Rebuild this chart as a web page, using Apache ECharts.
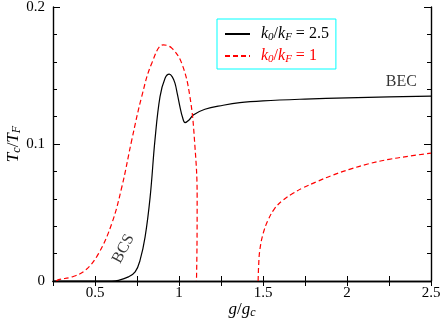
<!DOCTYPE html>
<html>
<head>
<meta charset="utf-8">
<script src="https://cdn.jsdelivr.net/npm/echarts@6/dist/echarts.min.js"></script>
<style>
  html, body { margin: 0; padding: 0; background: #fff; }
  #main { width: 443px; height: 325px; }
</style>
</head>
<body>
<div id="main"></div>
<script>
// black curve, k0/kF = 2.5
var blackX = [0.25, 0.5, 0.60, 0.64, 0.699, 0.739, 0.768, 0.798, 0.828, 0.857, 0.887, 0.917, 0.942, 0.96, 0.976, 0.991, 1.006, 1.021, 1.036, 1.06, 1.085, 1.154, 1.263, 1.362, 1.5, 1.75, 2.0, 2.25, 2.5];
var blackY = [0, 0, 0, 0.0005, 0.0030, 0.0066, 0.0150, 0.0320, 0.0610, 0.1030, 0.1346, 0.1480, 0.1510, 0.1490, 0.1444, 0.1360, 0.1270, 0.1195, 0.1156, 0.1175, 0.1212, 0.1254, 0.1283, 0.1302, 0.1315, 0.1328, 0.1337, 0.1344, 0.1350];
// red dashed curve, k0/kF = 1 (BCS side)
var redX1 = [0.27, 0.283, 0.363, 0.442, 0.521, 0.60, 0.66, 0.719, 0.778, 0.838, 0.907, 0.957, 1.016, 1.065, 1.095, 1.108, 1.107, 1.104];
var redY1 = [0, 0.001, 0.003, 0.0078, 0.020, 0.042, 0.0688, 0.103, 0.1346, 0.159, 0.1724, 0.170, 0.159, 0.1346, 0.098, 0.0615, 0.025, 0];
// red dashed curve, BEC side
var redX2 = [1.471, 1.474, 1.481, 1.501, 1.530, 1.570, 1.619, 1.679, 1.738, 1.818, 1.916, 2.015, 2.124, 2.25, 2.375, 2.5];
var redY2 = [0, 0.011, 0.0225, 0.0347, 0.0444, 0.053, 0.059, 0.064, 0.068, 0.0724, 0.0773, 0.0815, 0.0854, 0.0888, 0.0912, 0.0934];
var noteText = ['BEC', 'BCS'];
var noteX = [2.324, 0.669];
var noteY = [0.1454, 0.0235];
var noteRotate = [0, 62];

function pairs(xs, ys) {
  return xs.map(function (x, i) { return [x, ys[i]]; });
}

var serif = "'Liberation Serif', 'Times New Roman', serif";
var chart = echarts.init(document.getElementById('main'));

var rich = {
  i: { fontFamily: serif, fontStyle: 'italic', fontSize: 17 },
  n: { fontFamily: serif, fontSize: 17 },
  s: { fontFamily: serif, fontStyle: 'italic', fontSize: 12, padding: [7, 0, 0, 0] }
};
var legendRich = {
  sp: { width: 6 },
  i: { fontFamily: serif, fontStyle: 'italic', fontSize: 16 },
  n: { fontFamily: serif, fontSize: 16 },
  s: { fontFamily: serif, fontStyle: 'italic', fontSize: 11, padding: [7, 0, 0, 0] }
};

var axisCommon = {
  axisLine: { show: true, lineStyle: { color: '#000', width: 1.4 } },
  splitLine: { show: false }
};

var option = {
  animation: false,
  backgroundColor: '#fff',
  grid: { left: 53, right: 12, top: 7, bottom: 44, outerBoundsMode: 'none', containLabel: false },
  legend: {
    orient: 'vertical',
    left: 217,
    top: 19,
    padding: [7, 7, 4, 7],
    itemGap: 5,
    itemWidth: 25,
    itemHeight: 14,
    borderColor: '#00ffff',
    borderWidth: 1,
    itemStyle: { opacity: 0 },
    data: [
      { name: 'k2.5', textStyle: { color: '#000' } },
      { name: 'k1', textStyle: { color: '#ff0000' } }
    ],
    formatter: function (name) {
      var v = name === 'k2.5' ? '2.5' : '1';
      return '{sp|}{i|k}{s|0}{n|/}{i|k}{s|F}{n| = ' + v + '}';
    },
    textStyle: { rich: legendRich }
  },
  xAxis: [Object.assign({
    type: 'value', min: 0.25, max: 2.5, interval: 0.25,
    name: '{i|g}{n|/}{i|g}{s|c}', nameLocation: 'middle', nameGap: 19, nameMoveOverlap: false,
    nameTextStyle: { rich: rich },
    axisTick: { inside: true, length: 5, lineStyle: { color: '#000' } },
    axisLabel: {
      fontFamily: serif, fontSize: 15, color: '#000', margin: 5,
      formatter: function (v) {
        return Math.abs(v * 2 - Math.round(v * 2)) < 1e-6 ? String(v) : '';
      }
    }
  }, axisCommon), Object.assign({
    type: 'value', min: 0.25, max: 2.5, interval: 0.25, position: 'top',
    axisTick: { inside: true, length: 5, lineStyle: { color: '#000' } },
    axisLabel: { show: false }
  }, axisCommon)],
  yAxis: [Object.assign({
    type: 'value', min: 0, max: 0.2, interval: 0.1,
    name: '{i|T}{s|c}{n|/}{i|T}{s|F}', nameLocation: 'middle', nameGap: 30, nameRotate: 90, nameMoveOverlap: false,
    nameTextStyle: { rich: rich },
    axisTick: { inside: true, length: 7, lineStyle: { color: '#000' } },
    minorTick: { show: true, splitNumber: 5, length: 4, lineStyle: { color: '#000' } },
    axisLabel: {
      fontFamily: serif, fontSize: 15, color: '#000', margin: 8,
      formatter: function (v) { return v === 0 ? '0' : String(+v.toFixed(2)); }
    }
  }, axisCommon), Object.assign({
    type: 'value', min: 0, max: 0.2, interval: 0.1, position: 'right',
    axisTick: { inside: true, length: 7, lineStyle: { color: '#000' } },
    minorTick: { show: true, splitNumber: 5, length: 4, lineStyle: { color: '#000' } },
    axisLabel: { show: false }
  }, axisCommon)],
  series: [
    {
      name: 'k2.5', type: 'line', smooth: 0.4, showSymbol: false, symbol: 'none',
      data: pairs(blackX, blackY),
      lineStyle: { color: '#000', width: 1.2 }, itemStyle: { color: '#000' }
    },
    {
      name: 'k1', type: 'line', smooth: 0.4, showSymbol: false, symbol: 'none',
      data: pairs(redX1, redY1),
      lineStyle: { color: '#ff0000', width: 1.2, type: [5, 3] }, itemStyle: { color: '#ff0000' }
    },
    {
      name: 'k1', type: 'line', smooth: 0.4, showSymbol: false, symbol: 'none',
      data: pairs(redX2, redY2),
      lineStyle: { color: '#ff0000', width: 1.2, type: [5, 3] }, itemStyle: { color: '#ff0000' }
    },
    {
      name: 'notes', type: 'scatter', symbolSize: 0, silent: true,
      data: noteText.map(function (t, i) {
        return {
          value: [noteX[i], noteY[i]],
          label: { show: true, formatter: t, position: 'inside', rotate: noteRotate[i],
            fontFamily: serif, fontSize: 16, color: '#000' }
        };
      })
    }
  ]
};

chart.setOption(option);
</script>
</body>
</html>
